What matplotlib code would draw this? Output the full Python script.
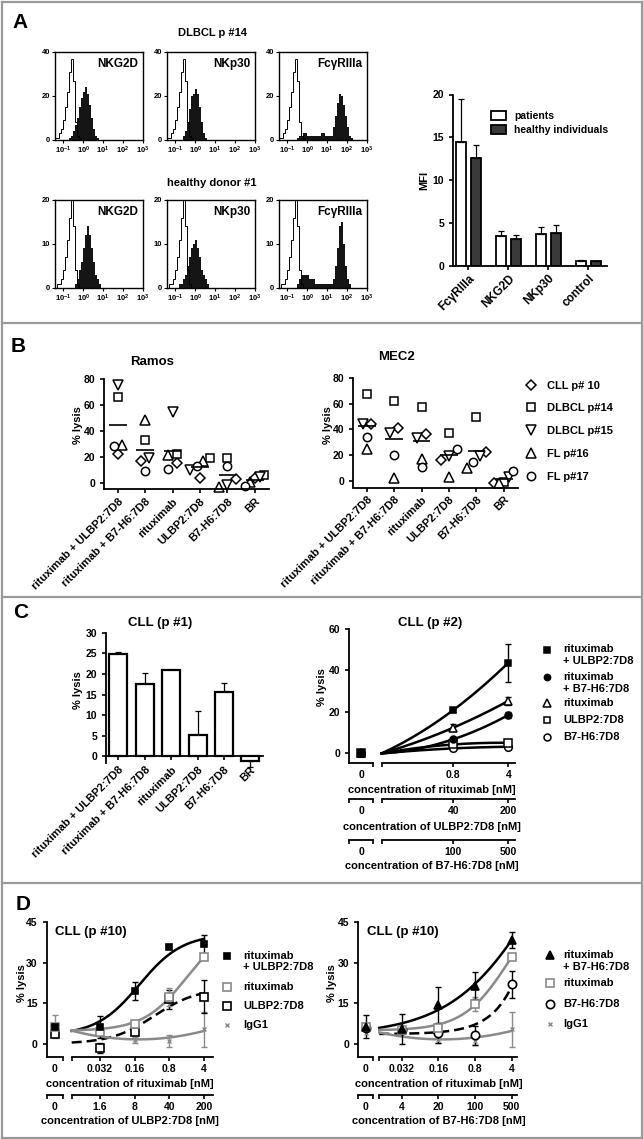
import numpy as np
import matplotlib
matplotlib.use('Agg')
import matplotlib.pyplot as plt
from matplotlib.lines import Line2D
from matplotlib.ticker import NullFormatter, NullLocator

plt.rcParams['font.family'] = ['Liberation Sans', 'DejaVu Sans']
plt.rcParams['font.weight'] = 'bold'
plt.rcParams['axes.labelweight'] = 'bold'
plt.rcParams['axes.linewidth'] = 1.3
plt.rcParams['xtick.major.width'] = 1.2
plt.rcParams['ytick.major.width'] = 1.2
plt.rcParams['xtick.major.size'] = 3
plt.rcParams['ytick.major.size'] = 3
plt.rcParams['xtick.labelsize'] = 7.5
plt.rcParams['ytick.labelsize'] = 7.5
plt.rcParams['mathtext.fontset'] = 'custom'
plt.rcParams['mathtext.rm'] = 'Liberation Sans'
plt.rcParams['mathtext.default'] = 'regular'

# ------------------------------------------------------------------ data
# Panel A: flow cytometry histograms (bin heights over log10 fluorescence bins)
HIST_LOG_EDGES = np.round(np.arange(-1.4, 2.65, 0.1), 2)
CTRL_TOP = [1, 1, 3, 5, 9, 15, 22, 31, 37, 27, 8, 2, 1] + [0] * 27
CTRL_BOT = [0, 1, 1, 2, 4, 7, 11, 16, 20, 14, 4, 1] + [0] * 28
NKG2D_TOP = [0] * 7 + [1, 2, 4, 7, 10, 15, 19, 22, 24, 21, 16, 10, 5, 2, 1] + [0] * 18
NKP30_TOP = [0] * 8 + [2, 4, 8, 14, 20, 21, 23, 21, 15, 8, 3, 1] + [0] * 20
FCGR_TOP = [0] * 9 + [1, 2, 2, 3, 3, 2, 2, 2, 2, 2, 2, 2, 3, 3, 2, 2, 2,
                      2, 6, 11, 17, 21, 20, 16, 11, 6, 2, 1] + [0] * 3
NKG2D_BOT = [0] * 10 + [1, 2, 4, 6, 9, 12, 14, 12, 9, 6, 3, 2, 1] + [0] * 17
NKP30_BOT = [0] * 6 + [1, 1, 2, 3, 5, 7, 9, 10, 11, 9, 7, 4, 3, 2, 1] + [0] * 19
FCGR_BOT = [0] * 9 + [1, 2, 3, 3, 3, 3, 2, 2, 2, 1, 1, 1, 1, 1, 1, 1, 1, 1,
                      2, 5, 9, 14, 15, 10, 5, 2, 1] + [0] * 4
HIST_NAMES = ['NKG2D', 'NKp30', 'FcγRIIIa']
HIST_XTICKS = [0.1, 1, 10, 100, 1000]
HIST_XTICKLABELS = ['$10^{-1}$', '$10^{0}$', '$10^{1}$', '$10^{2}$', '$10^{3}$']

# Panel A: MFI bar chart
A_MARKERS = ['FcγRIIIa', 'NKG2D', 'NKp30', 'control']
A_PATIENTS = [14.4, 3.5, 3.75, 0.6]
A_PAT_ERR = [5.1, 0.6, 0.8, 0.1]
A_HEALTHY = [12.6, 3.1, 3.85, 0.5]
A_HEA_ERR = [1.5, 0.45, 0.9, 0.1]

# Panel B
B_TREATMENTS = ['rituximab + ULBP2:7D8', 'rituximab + B7-H6:7D8', 'rituximab',
                'ULBP2:7D8', 'B7-H6:7D8', 'BR']
B_PATIENTS = ['CLL p# 10', 'DLBCL p#14', 'DLBCL p#15', 'FL p#16', 'FL p#17']
B_MARKERS = ['D', 's', 'v', '^', 'o']
RAMOS_CLL10 = [22.0, 16.8, 15.0, 3.4, 2.8, 3.4]
RAMOS_DLBCL14 = [66.6, 33.0, 22.2, 18.8, 18.8, 6.0]
RAMOS_DLBCL15 = [75.6, 18.8, 54.5, 9.8, -1.8, 4.6]
RAMOS_FL16 = [29.0, 48.5, 21.4, 17.0, -3.0, 0.8]
RAMOS_FL17 = [28.4, 9.0, 10.6, 12.9, 12.9, -2.3]
MEC2_CLL10 = [43.9, 40.8, 36.1, 16.3, 22.2, -1.3]
MEC2_DLBCL14 = [67.4, 62.2, 57.0, 37.4, 49.8, -0.5]
MEC2_DLBCL15 = [43.9, 36.9, 33.0, 19.6, 19.6, 2.8]
MEC2_FL16 = [24.5, 2.0, 16.8, 3.4, 10.3, -1.3]
MEC2_FL17 = [34.3, 20.4, 10.6, 24.5, 15.0, 7.7]

# Panel C left
C1_VALUES = [24.8, 17.6, 20.9, 5.2, 15.7, -1.0]
C1_ERR = [0.6, 2.7, 0.0, 5.9, 2.0, 1.6]

# Panel C right
C_RITUX_CONC = [0, 0.8, 4]
C_ULBP2_CONC = [0, 40, 200]
C_B7_CONC = [0, 100, 500]
C2_RITUX_ULBP2 = [0.0, 20.9, 43.7]
C2_RITUX_ULBP2_ERR = [0.0, 0.8, 9.3]
C2_RITUX_B7 = [0.0, 6.8, 18.5]
C2_RITUX_B7_ERR = [0.0, 0.6, 1.5]
C2_RITUX = [0.0, 12.4, 25.3]
C2_RITUX_ERR = [0.0, 1.6, 2.0]
C2_ULBP2 = [0.0, 4.3, 5.1]
C2_ULBP2_ERR = [0.0, 0.5, 0.5]
C2_B7 = [0.0, 2.4, 3.2]
C2_B7_ERR = [0.0, 0.5, 0.5]
C2_LABELS = [['rituximab', '+ ULBP2:7D8'], ['rituximab', '+ B7-H6:7D8'], ['rituximab'],
             ['ULBP2:7D8'], ['B7-H6:7D8']]

# Panel D
D_RITUX_CONC = [0, 0.032, 0.16, 0.8, 4]
D_ULBP2_CONC = [0, 1.6, 8, 40, 200]
D_B7_CONC = [0, 4, 20, 100, 500]
DL_RITUX_ULBP2 = [6.4, 6.2, 19.6, 36.0, 36.9]
DL_RITUX_ULBP2_ERR = [0.0, 4.0, 3.2, 0.0, 3.5]
DL_RITUX = [6.4, 4.5, 7.5, 17.5, 32.0]
DL_RITUX_ERR = [4.2, 0.0, 0.0, 3.3, 0.0]
DL_ULBP2 = [3.8, -1.5, 4.5, 16.5, 17.5]
DL_ULBP2_ERR = [1.0, 2.0, 0.0, 3.5, 6.0]
DL_IGG1 = [4.2, 4.5, 1.5, 1.1, 5.5]
DL_IGG1_ERR = [0.0, 0.0, 1.0, 2.2, 6.5]
DR_RITUX_B7 = [6.4, 5.5, 14.4, 21.5, 38.5]
DR_RITUX_B7_ERR = [4.2, 5.5, 6.5, 5.0, 3.0]
DR_RITUX = [6.4, 5.0, 6.0, 14.8, 32.0]
DR_RITUX_ERR = [0.0, 0.0, 0.0, 2.5, 0.0]
DR_B7 = [6.0, 5.0, 4.0, 3.3, 22.0]
DR_B7_ERR = [0.0, 0.0, 3.5, 3.5, 5.0]
DR_IGG1 = [4.2, 4.5, 1.5, 1.1, 5.5]
DR_IGG1_ERR = [0.0, 0.0, 1.0, 1.5, 6.5]

# ------------------------------------------------------------------ figure
W, H = 643, 1139
fig = plt.figure(figsize=(W / 100, H / 100), dpi=100)
GRAY = '#8a8a8a'
DARK = '#3a3a3a'
FS_LAB = 8


def add_ax(l, t, r, b):
    return fig.add_axes([l / W, 1 - b / H, (r - l) / W, (b - t) / H])


def fxy(x, y):
    return (x / W, 1 - y / H)


def ftext(x, y, s, **kw):
    fig.text(x / W, 1 - y / H, s, **kw)


def hide(ax, *names):
    for n in names:
        ax.spines[n].set_visible(False)


def manual_legend(entries, mx, tx, ys, line_gap, fs=8):
    """entries: (marker kwargs, [lines]); first text line aligned with marker."""
    for (mkw, lines), y in zip(entries, ys):
        fig.add_artist(Line2D([mx / W], [1 - y / H], transform=fig.transFigure, ls='none', **mkw))
        for k, line in enumerate(lines):
            ftext(tx, y + k * line_gap, line, fontsize=fs, fontweight='bold', ha='left', va='center')


# frame and separators
border = dict(transform=fig.transFigure, color='#9a9a9a', lw=1.6)
for (x0, y0, x1, y1) in [(2, 1.5, 641.5, 1.5), (2, 1137.5, 641.5, 1137.5),
                         (2, 1.5, 2, 1137.5), (641.5, 1.5, 641.5, 1137.5),
                         (2, 323, 641.5, 323), (2, 597, 641.5, 597), (2, 883, 641.5, 883)]:
    fig.add_artist(Line2D([x0 / W, x1 / W], [1 - y0 / H, 1 - y1 / H], **border))

for letter, (x, y) in zip('ABCD', [(20, 22), (18, 347), (21, 613), (23, 905)]):
    ftext(x, y, letter, fontsize=15, fontweight='bold', ha='center', va='center')

# ------------------------------------------------------------------ A histograms
edges = 10 ** HIST_LOG_EDGES
rows = [('DLBCL p #14', 33, 52, 140, CTRL_TOP, [NKG2D_TOP, NKP30_TOP, FCGR_TOP], 40),
        ('healthy donor #1', 183, 200, 288, CTRL_BOT, [NKG2D_BOT, NKP30_BOT, FCGR_BOT], 20)]
cols = [(55, 143), (167, 255), (279, 367)]
for title, ty, t, b, ctrl, fills, ymax in rows:
    ftext(212, ty, title, fontsize=8, fontweight='bold', ha='center', va='center')
    for (l, r), name, vals in zip(cols, HIST_NAMES, fills):
        ax = add_ax(l, t, r, b)
        ax.stairs(vals, edges, fill=True, color='#151515', lw=0)
        ax.stairs(ctrl, edges, color='black', lw=0.7)
        ax.set_xscale('log')
        ax.set_xlim(10 ** -1.42, 10 ** 3.0)
        ax.set_ylim(0, ymax)
        ax.set_yticks([0, ymax / 2, ymax])
        ax.set_yticklabels([f'{v:g}' for v in [0, ymax / 2, ymax]], fontsize=5.5)
        ax.set_xticks(HIST_XTICKS)
        ax.set_xticklabels(HIST_XTICKLABELS, fontsize=5.5)
        ax.xaxis.set_minor_locator(NullLocator())
        ax.tick_params(length=2, width=0.8, pad=1.5)
        for sp in ax.spines.values():
            sp.set_linewidth(1.0)
        ax.text(0.95, 0.93, name, transform=ax.transAxes, ha='right', va='top',
                fontsize=8.5, fontweight='bold')

# ------------------------------------------------------------------ A bar chart
ax = add_ax(453.3, 94.5, 606.7, 265.7)
xa = np.arange(len(A_MARKERS))
ekw = dict(ecolor='black', elinewidth=0.9, capsize=2.5, capthick=0.9)
ax.bar(xa - 0.19, A_PATIENTS, 0.25, color='white', edgecolor='black', lw=1.3,
       yerr=[np.zeros(len(xa)), A_PAT_ERR], error_kw=ekw, label='patients')
ax.bar(xa + 0.19, A_HEALTHY, 0.25, color=DARK, edgecolor='black', lw=1.3,
       yerr=[np.zeros(len(xa)), A_HEA_ERR], error_kw=ekw, label='healthy individuals')
ax.set_xlim(-0.375, 3.46)
ax.set_ylim(0, 20)
ax.set_yticks([0, 5, 10, 15, 20])
ax.set_xticks(xa)
ax.set_xticklabels(A_MARKERS, rotation=45, ha='right', rotation_mode='anchor', fontsize=8.5)
ax.tick_params(axis='x', length=3, pad=2)
hide(ax, 'top', 'right')
ftext(424, 180, 'MFI', rotation=90, fontsize=FS_LAB, fontweight='bold', ha='center', va='center')
ax.legend(loc='upper left', bbox_to_anchor=fxy(486, 106), bbox_transform=fig.transFigure,
          frameon=False, fontsize=7.5, handlelength=1.4, handleheight=0.9,
          handletextpad=0.8, labelspacing=0.35, borderpad=0)


# ------------------------------------------------------------------ B
def spread(vals, thresh, step, maxw):
    vals = np.asarray(vals, float)
    order = np.argsort(vals)
    offs = np.zeros(len(vals))
    clusters, cur = [], [order[0]]
    for a, c in zip(order[:-1], order[1:]):
        if vals[c] - vals[a] < thresh:
            cur.append(c)
        else:
            clusters.append(cur)
            cur = [c]
    clusters.append(cur)
    for cl in clusters:
        n = len(cl)
        st = min(step, maxw / (n - 1)) if n > 1 else 0
        for k, idx in enumerate(cl):
            offs[idx] = (k - (n - 1) / 2) * st
    return offs


MS = {'D': 5.5, 's': 6, 'v': 6.5, '^': 6.5, 'o': 6}


def scatter_panel(box, series, title, tpos, ylabx):
    ax = add_ax(*box)
    arr = np.array(series)
    groups = np.arange(arr.shape[1])
    for g in groups:
        offs = spread(arr[:, g], 5.5, 0.3, 0.7)
        for p in range(arr.shape[0]):
            ax.plot(g + offs[p], arr[p, g], marker=B_MARKERS[p], ms=MS[B_MARKERS[p]],
                    mfc='white', mec='black', mew=1.1, ls='none', clip_on=False)
    ax.hlines(arr.mean(axis=0), groups - 0.32, groups + 0.32, color='black', lw=1.2)
    ax.set_xlim(-0.49, 5.53)
    ax.set_ylim(-5, 80)
    ax.set_yticks([0, 20, 40, 60, 80])
    ax.set_xticks(groups)
    ax.set_xticklabels(B_TREATMENTS, rotation=45, ha='right', rotation_mode='anchor', fontsize=8)
    ax.tick_params(axis='x', length=3, pad=2)
    hide(ax, 'top', 'right')
    ftext(tpos[0], tpos[1], title, fontsize=9.5, fontweight='bold', ha='center', va='center')
    ftext(ylabx, 425, '% lysis', rotation=90, fontsize=FS_LAB, fontweight='bold', ha='center', va='center')
    return ax


scatter_panel((104.3, 379.3, 269.3, 489.3),
              [RAMOS_CLL10, RAMOS_DLBCL14, RAMOS_DLBCL15, RAMOS_FL16, RAMOS_FL17],
              'Ramos', (151.7, 361.7), 78)
scatter_panel((353.3, 377.7, 518.3, 487.5),
              [MEC2_CLL10, MEC2_DLBCL14, MEC2_DLBCL15, MEC2_FL16, MEC2_FL17],
              'MEC2', (396.7, 356.7), 328)
bh = [Line2D([], [], marker=m, ms=MS[m], mfc='white', mec='black', mew=1.1, ls='none')
      for m in B_MARKERS]
fig.legend(bh, B_PATIENTS, loc='upper left', bbox_to_anchor=fxy(520, 375),
           frameon=False, fontsize=8, handlelength=1.0, handletextpad=0.9,
           labelspacing=1.15, borderpad=0)

# ------------------------------------------------------------------ C left
ax = add_ax(106, 632.7, 263.3, 763)
xc = np.arange(len(C1_VALUES))
c1v = np.array(C1_VALUES)
c1e = np.array(C1_ERR)
lower = np.where(c1v < 0, c1e, 0)
upper = np.where(c1v >= 0, c1e, 0)
ax.bar(xc, c1v, 0.68, color='white', edgecolor='black', lw=1.6, zorder=2)
mask = c1e > 0
ax.errorbar(xc[mask], c1v[mask], yerr=[lower[mask], upper[mask]], fmt='none',
            ecolor='black', elinewidth=0.9, capsize=2.5, capthick=0.9, zorder=1, clip_on=False)
ax.set_xlim(-0.47, 5.49)
ax.set_ylim(-1.6, 30)
ax.spines['bottom'].set_position(('data', 0))
ax.set_yticks([0, 5, 10, 15, 20, 25, 30])
ax.set_xticks(xc)
ax.set_xticklabels(B_TREATMENTS, rotation=45, ha='right', rotation_mode='anchor', fontsize=8)
ax.tick_params(axis='x', length=3, pad=3)
hide(ax, 'top', 'right')
ftext(160, 623.3, 'CLL (p #1)', fontsize=9.5, fontweight='bold', ha='center', va='center')
ftext(78, 690, '% lysis', rotation=90, fontsize=FS_LAB, fontweight='bold', ha='center', va='center')


# ------------------------------------------------------------------ broken axes helpers
def make_broken(l, zr, s2l, r, t, b, lo, hi, ylim, yticks):
    ax0 = add_ax(l, t, zr, b)
    ax1 = add_ax(s2l, t, r, b)
    for a in (ax0, ax1):
        a.set_ylim(*ylim)
        hide(a, 'top', 'right')
        a.patch.set_alpha(0)
    ax0.set_xlim(-1, 1)
    ax0.set_yticks(yticks)
    ax0.set_xticks([0])
    ax0.set_xticklabels(['0'])
    ax0.tick_params(axis='x', which='major', length=0, pad=5)
    ax0.set_xticks([1.0], minor=True)
    ax1.set_xscale('log')
    ax1.set_xlim(10 ** lo, 10 ** hi)
    hide(ax1, 'left')
    ax1.set_yticks([])
    ax1.set_xticks([10 ** lo], minor=True)
    ax1.xaxis.set_minor_formatter(NullFormatter())
    ax1.tick_params(axis='x', which='major', length=3, pad=2)
    for a in (ax0, ax1):
        a.tick_params(axis='x', which='minor', length=3, width=1.2)
    return ax0, ax1


def make_secondary(l, zr, s2l, r, y, lo, hi, factor, concs):
    s0 = add_ax(l, y - 1, zr, y)
    s1 = add_ax(s2l, y - 1, r, y)
    for a in (s0, s1):
        hide(a, 'top', 'right', 'left')
        a.set_yticks([])
        a.patch.set_alpha(0)
    s0.set_xlim(-1, 1)
    s0.set_xticks([0])
    s0.set_xticklabels(['0'])
    s0.tick_params(axis='x', which='major', length=0, pad=5)
    s0.set_xticks([-1.0, 1.0], minor=True)
    s1.set_xscale('log')
    s1.set_xlim(10 ** lo * factor, 10 ** hi * factor)
    s1.set_xticks(concs[1:])
    s1.set_xticklabels([f'{c:g}' for c in concs[1:]])
    s1.set_xticks([10 ** lo * factor], minor=True)
    s1.xaxis.set_minor_formatter(NullFormatter())
    s1.tick_params(axis='x', which='major', length=3, pad=2)
    for a in (s0, s1):
        a.tick_params(axis='x', which='minor', length=3, width=1.2)
    return s0, s1


def fit_4pl(lx, y):
    lx = np.asarray(lx, float)
    y = np.asarray(y, float)
    best = (np.inf, None)
    for ec in np.linspace(-3, 3, 121):
        for h in np.linspace(0.5, 1.0, 11):
            s = 1.0 / (1.0 + 10 ** ((ec - lx) * h))
            A = np.column_stack([1 - s, s])
            coef = np.linalg.lstsq(A, y, rcond=None)[0]
            sse = np.sum((A @ coef - y) ** 2)
            if sse < best[0]:
                best = (sse, (ec, h, coef))
    ec, h, (bot, top) = best[1]
    return lambda x: bot + (top - bot) / (1 + 10 ** ((ec - x) * h))


def fit_poly(lx, y, deg):
    p = np.polyfit(lx, y, deg)
    return lambda x: np.polyval(p, x)


def draw_series(ax0, ax1, conc, vals, errs, color, marker, mfc, ms, mew=1.1):
    conc = np.asarray(conc, float)
    vals = np.asarray(vals, float)
    errs = np.asarray(errs, float)
    for a, sel in ((ax0, conc == 0), (ax1, conc > 0)):
        xs = conc[sel]
        m = errs[sel] > 0
        if m.any():
            a.errorbar(xs[m], vals[sel][m], yerr=errs[sel][m], fmt='none', ecolor=color,
                       elinewidth=1.0, capsize=2.5, capthick=1.0, clip_on=False, zorder=3)
        a.plot(xs, vals[sel], ls='none', marker=marker, ms=ms, mfc=mfc, mec=color,
               mew=mew, clip_on=False, zorder=4)


def draw_curve(ax1, f, lo, hi_conc, color, ls='-'):
    xx = np.logspace(lo, np.log10(hi_conc), 200)
    ax1.plot(xx, f(np.log10(xx)), color=color, lw=1.8, ls=ls, zorder=2, clip_on=False,
             dashes=(4, 2) if ls == '--' else (None, None))


# ------------------------------------------------------------------ C right
c_lo, c_hi = -1.007, 0.687
a0, a1 = make_broken(349.3, 373.3, 381.7, 515, 629, 762.7, c_lo, c_hi, (-4.5, 60), [0, 20, 40, 60])
a1.set_xticks(C_RITUX_CONC[1:])
a1.set_xticklabels([f'{c:g}' for c in C_RITUX_CONC[1:]])
make_secondary(349.3, 373.3, 381.7, 515, 799.3, c_lo, c_hi,
               C_ULBP2_CONC[-1] / C_RITUX_CONC[-1], C_ULBP2_CONC)
make_secondary(349.3, 373.3, 381.7, 515, 840, c_lo, c_hi,
               C_B7_CONC[-1] / C_RITUX_CONC[-1], C_B7_CONC)
ftext(432, 790, 'concentration of rituximab [nM]', fontsize=FS_LAB, fontweight='bold', ha='center', va='center')
ftext(432, 826.7, 'concentration of ULBP2:7D8 [nM]', fontsize=FS_LAB, fontweight='bold', ha='center', va='center')
ftext(432, 866, 'concentration of B7-H6:7D8 [nM]', fontsize=FS_LAB, fontweight='bold', ha='center', va='center')
ftext(430, 623.3, 'CLL (p #2)', fontsize=9.5, fontweight='bold', ha='center', va='center')
ftext(322, 687, '% lysis', rotation=90, fontsize=FS_LAB, fontweight='bold', ha='center', va='center')

c_lx = np.array([c_lo] + list(np.log10(C_RITUX_CONC[1:])))
c_specs = [(C2_RITUX_ULBP2, C2_RITUX_ULBP2_ERR, 's', 'black', 5),
           (C2_RITUX_B7, C2_RITUX_B7_ERR, 'o', 'black', 5),
           (C2_RITUX, C2_RITUX_ERR, '^', 'white', 6),
           (C2_ULBP2, C2_ULBP2_ERR, 's', 'white', 5.5),
           (C2_B7, C2_B7_ERR, 'o', 'white', 5.5)]
for vals, errs, mk, mfc, ms in c_specs:
    draw_curve(a1, fit_poly(c_lx, vals, 2), c_lo, C_RITUX_CONC[-1], 'black')
for vals, errs, mk, mfc, ms in reversed(c_specs):
    draw_series(a0, a1, C_RITUX_CONC, vals, errs, 'black', mk, mfc, ms)
manual_legend([(dict(marker=mk, mfc=mfc, mec='black', ms=ms - 0.5, mew=1.1), lab)
               for (_, _, mk, mfc, ms), lab in zip(c_specs, C2_LABELS)],
              547, 563, [649.5, 677, 702.5, 720, 737], 11.5)

# ------------------------------------------------------------------ D
D_ZERO_LOG = -2.1


def d_panel(geom, lo, hi, second_conc, second_label, xc_label, title_xy, ylab_x, specs, leg_x, leg_ys):
    l, zr, s2l, r = geom
    b0, b1 = make_broken(l, zr, s2l, r, 922.3, 1056.7, lo, hi, (-4.7, 45), [0, 15, 30, 45])
    b1.set_xticks(D_RITUX_CONC[1:])
    b1.set_xticklabels([f'{c:g}' for c in D_RITUX_CONC[1:]])
    make_secondary(l, zr, s2l, r, 1095, lo, hi, second_conc[-1] / D_RITUX_CONC[-1], second_conc)
    ftext(xc_label, 1084, 'concentration of rituximab [nM]', fontsize=FS_LAB, fontweight='bold',
          ha='center', va='center')
    ftext(xc_label, 1121, second_label, fontsize=FS_LAB, fontweight='bold', ha='center', va='center')
    ftext(title_xy[0], title_xy[1], 'CLL (p #10)', fontsize=9.5, fontweight='bold', ha='left', va='center')
    ftext(ylab_x, 983, '% lysis', rotation=90, fontsize=FS_LAB, fontweight='bold', ha='center', va='center')
    lx = np.array([D_ZERO_LOG] + list(np.log10(D_RITUX_CONC[1:])))
    entries = []
    for vals, errs, kind, color, ls, mk, mfc, ms, label in specs:
        f = fit_poly(lx, vals, 2) if kind == 'poly' else fit_4pl(lx, vals)
        draw_curve(b1, f, lo, D_RITUX_CONC[-1], color, ls)
    for vals, errs, kind, color, ls, mk, mfc, ms, label in reversed(specs):
        mew = 1.0 if mk == 'x' else 1.2
        draw_series(b0, b1, D_RITUX_CONC, vals, errs, color, mk, mfc, ms, mew=mew)
    for vals, errs, kind, color, ls, mk, mfc, ms, label in specs:
        mew = 1.0 if mk == 'x' else 1.2
        entries.append((dict(marker=mk, mfc=mfc, mec=color, ms=ms, mew=mew), label))
    manual_legend(entries, leg_x[0], leg_x[1], leg_ys, 11.5)


d_panel((46.7, 62.7, 71.7, 213.3), -2.065, 0.79, D_ULBP2_CONC,
        'concentration of ULBP2:7D8 [nM]', 130, (55, 931.7), 21.7,
        [(DL_RITUX_ULBP2, DL_RITUX_ULBP2_ERR, '4pl', 'black', '-', 's', 'black', 5,
          ['rituximab', '+ ULBP2:7D8']),
         (DL_RITUX, DL_RITUX_ERR, '4pl', GRAY, '-', 's', 'white', 6, ['rituximab']),
         (DL_ULBP2, DL_ULBP2_ERR, '4pl', 'black', '--', 's', 'white', 6, ['ULBP2:7D8']),
         (DL_IGG1, DL_IGG1_ERR, 'poly', GRAY, '-', 'x', GRAY, 3.5, ['IgG1'])],
        (227, 243), [956, 987, 1006, 1025])

d_panel((358, 373, 379.3, 516.7), -1.92, 0.70, D_B7_CONC,
        'concentration of B7-H6:7D8 [nM]', 439, (366.7, 931.7), 331.7,
        [(DR_RITUX_B7, DR_RITUX_B7_ERR, '4pl', 'black', '-', '^', 'black', 6,
          ['rituximab', '+ B7-H6:7D8']),
         (DR_RITUX, DR_RITUX_ERR, '4pl', GRAY, '-', 's', 'white', 6, ['rituximab']),
         (DR_B7, DR_B7_ERR, '4pl', 'black', '--', 'o', 'white', 6, ['B7-H6:7D8']),
         (DR_IGG1, DR_IGG1_ERR, 'poly', GRAY, '-', 'x', GRAY, 3.5, ['IgG1'])],
        (550, 563), [955, 983, 1004, 1024])

fig.savefig('out.png', dpi=100)
